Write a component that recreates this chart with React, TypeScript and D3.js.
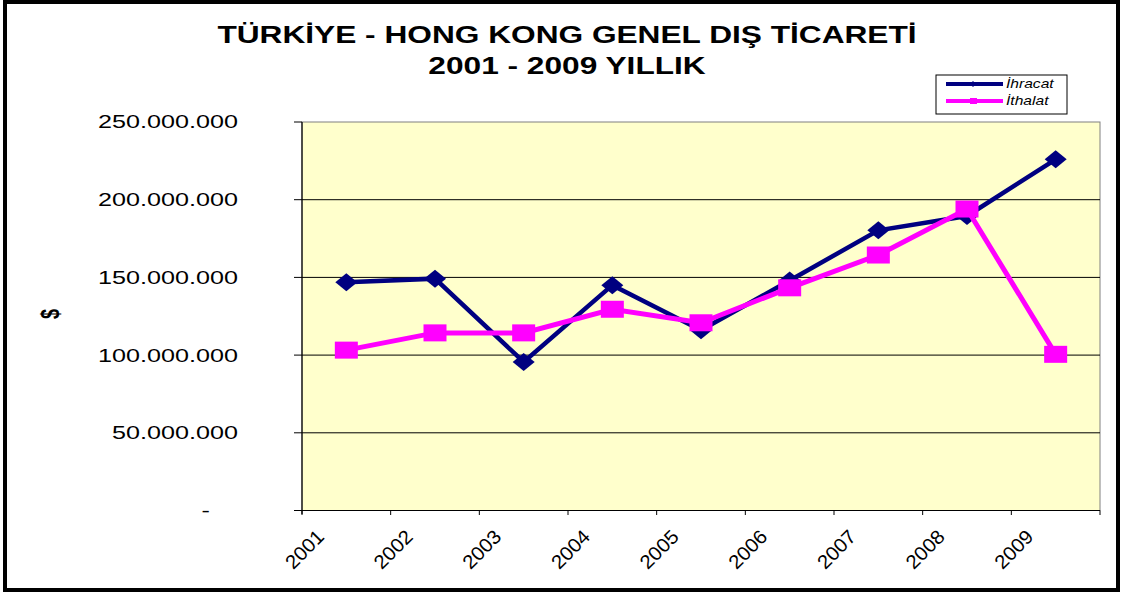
import React from 'react';
import * as d3 from 'd3';

const years = ['2001', '2002', '2003', '2004', '2005', '2006', '2007', '2008', '2009'];
const ihracat = [146.8e6, 149.2e6, 95.6e6, 145.0e6, 116.0e6, 148.0e6, 180.3e6, 189.5e6, 226.0e6];
const ithalat = [103.2e6, 114.3e6, 114.3e6, 129.5e6, 120.8e6, 143.3e6, 164.4e6, 194.0e6, 100.5e6];
const yTicks = [0, 50e6, 100e6, 150e6, 200e6, 250e6];
const yTickLabels = ['-', '50.000.000', '100.000.000', '150.000.000', '200.000.000', '250.000.000'];

const W = 1126;
const H = 596;
const FONT = '"Liberation Sans", Arial, sans-serif';
const SX = 1.4; // horizontal stretch of the original picture

const App = () => {
    const x = d3.scaleBand().domain(years).range([302, 1100]).padding(0);
    const y = d3.scaleLinear().domain([0, 250e6]).range([510.5, 122]);
    const cx = (d: string) => (x(d) as number) + x.bandwidth() / 2;

    const line = d3.line<number>()
        .x((d, i) => cx(years[i]))
        .y(d => y(d));

    const diamond = (px: number, py: number) =>
        `M${px - 11},${py} L${px},${py - 9} L${px + 11},${py} L${px},${py + 9} Z`;

    return (
        <svg width={W} height={H} style={{ position: 'absolute', left: 0, top: 0, background: '#fff' }}
            fontFamily={FONT}>
            {/* outer frame */}
            <rect x={5} y={2} width={1113} height={588} fill="#fff" stroke="#000" strokeWidth={4} />

            {/* title */}
            <g fontWeight="bold" fontSize={23} textAnchor="middle" fill="#000">
                <text transform={`translate(567,43) scale(1.377,1)`}>TÜRKİYE - HONG KONG GENEL DIŞ TİCARETİ</text>
                <text transform={`translate(567,73.5) scale(1.377,1)`}>2001 - 2009 YILLIK</text>
            </g>

            {/* plot area */}
            <rect x={302} y={122} width={798} height={388.5} fill="#FFFFCC" stroke="#808080" strokeWidth={1} />
            {yTicks.slice(1, -1).map(t => (
                <line key={t} x1={302} x2={1100} y1={y(t)} y2={y(t)} stroke="#000" strokeWidth={1} />
            ))}

            {/* y axis */}
            <line x1={302} x2={302} y1={122} y2={514} stroke="#000" strokeWidth={1.2} />
            {yTicks.map((t, i) => (
                <g key={t}>
                    <line x1={294} x2={302} y1={y(t)} y2={y(t)} stroke="#000" strokeWidth={1} />
                    <text
                        transform={`translate(${i === 0 ? 238 - 2 * 18 * 0.556 * SX : 238},${y(t)}) scale(${SX},1)`}
                        dy="0.36em" fontSize={18} textAnchor="end" fill="#000">
                        {yTickLabels[i]}
                    </text>
                </g>
            ))}
            <text transform={`translate(50,314) scale(${SX},1) rotate(-90)`} fontSize={18} fontWeight="bold"
                textAnchor="middle" dy="0.35em" fill="#000">$</text>

            {/* x axis */}
            <line x1={294} x2={1100} y1={510.5} y2={510.5} stroke="#000" strokeWidth={1.2} />
            {years.map(d => (
                <line key={d} x1={x(d)} x2={x(d)} y1={510.5} y2={515} stroke="#000" strokeWidth={1} />
            ))}
            <line x1={1100} x2={1100} y1={510.5} y2={515} stroke="#000" strokeWidth={1} />
            {years.map(d => (
                <text key={d} transform={`translate(${cx(d) - 21},538) rotate(-45) scale(1.05,1)`} fontSize={19.5}
                    textAnchor="end" fill="#000">{d}</text>
            ))}

            {/* İhracat */}
            <path d={line(ihracat) || ''} fill="none" stroke="#000080" strokeWidth={4.5} strokeLinejoin="miter" />
            {ihracat.map((v, i) => (
                <path key={i} d={diamond(cx(years[i]), y(v))} fill="#000080" />
            ))}

            {/* İthalat */}
            <path d={line(ithalat) || ''} fill="none" stroke="#FF00FF" strokeWidth={5} strokeLinejoin="miter" />
            {ithalat.map((v, i) => (
                <rect key={i} x={cx(years[i]) - 11.5} y={y(v) - 8.5} width={23} height={17} fill="#FF00FF" />
            ))}

            {/* legend */}
            <rect x={936} y={75} width={131} height={39} fill="#fff" stroke="#000" strokeWidth={1} />
            <line x1={946} x2={1003} y1={84} y2={84} stroke="#000080" strokeWidth={4} />
            <path d={`M${973},${84} m-3,0 l3,-3 l3,3 l-3,3 Z`} fill="#000080" />
            <line x1={946} x2={1003} y1={101} y2={101} stroke="#FF00FF" strokeWidth={4} />
            <rect x={970} y={98} width={7} height={6} fill="#FF00FF" />
            <g fontSize={12} fontStyle="italic" fill="#000">
                <text transform={`translate(1006,88) scale(1.3,1)`}>İhracat</text>
                <text transform={`translate(1006,105) scale(1.3,1)`}>İthalat</text>
            </g>
        </svg>
    );
};

export default App;
